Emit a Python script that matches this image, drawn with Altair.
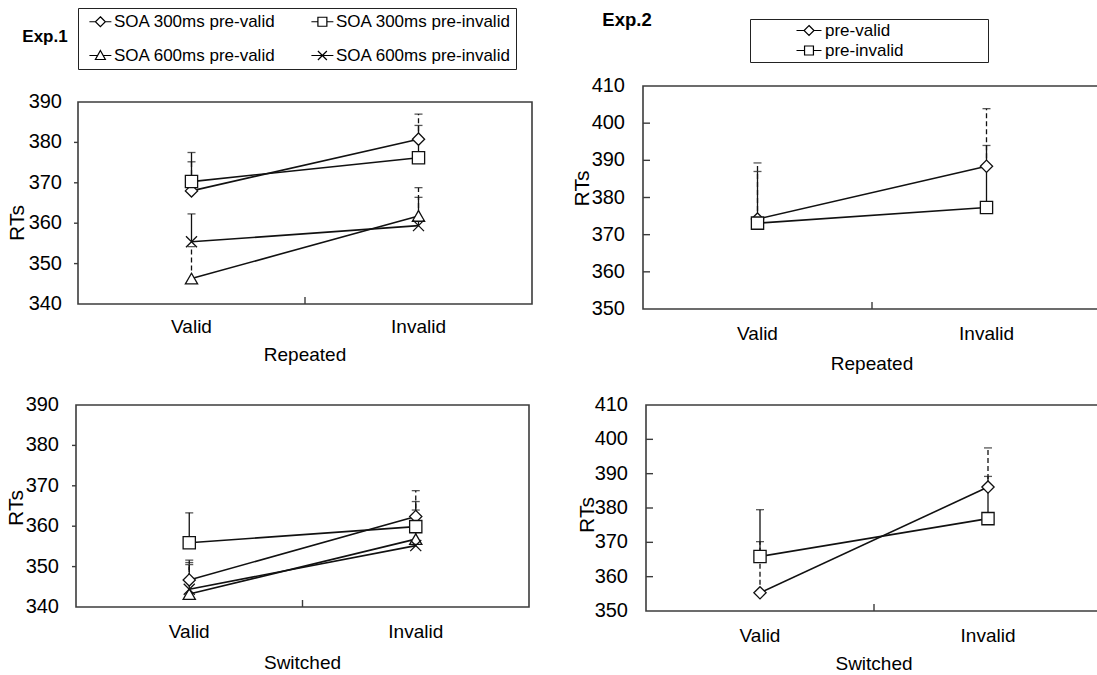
import altair as alt
import pandas as pd

# ---------------- data ----------------
conditions = ["Valid", "Invalid"]

exp1_series = ["SOA 300ms pre-valid", "SOA 300ms pre-invalid",
               "SOA 600ms pre-valid", "SOA 600ms pre-invalid"]
exp1_dashed = ["SOA 300ms pre-valid", "SOA 600ms pre-valid"]
exp2_series = ["pre-valid", "pre-invalid"]
exp2_dashed = ["pre-valid"]

# mean RTs [Valid, Invalid] and top of the (upper) error bar
exp1_rep_mean = [[368.0, 380.8], [370.3, 376.2], [346.3, 361.8], [355.4, 359.4]]
exp1_rep_upper = [[375.2, 387.0], [377.5, 384.2], [354.2, 368.8], [362.3, 366.4]]
exp1_sw_mean = [[346.7, 362.4], [355.9, 359.9], [343.2, 356.8], [344.4, 355.2]]
exp1_sw_upper = [[351.6, 368.8], [363.3, 366.1], [351.0, 364.0], [350.5, 361.0]]
exp2_rep_mean = [[374.2, 388.4], [373.1, 377.3]]
exp2_rep_upper = [[389.3, 403.9], [387.0, 394.0]]
exp2_sw_mean = [[355.3, 386.1], [365.9, 376.9]]
exp2_sw_upper = [[370.2, 397.5], [379.5, 389.2]]

y_ticks_exp1 = [340, 350, 360, 370, 380, 390]
y_ticks_exp2 = [350, 360, 370, 380, 390, 400, 410]
y_title = "RTs"

FONT = "Liberation Sans"
W, H = 1097, 675
INK = "#111111"
FRAME = "#3c3c3c"

marker_exp1 = ["diamond", "square", "triangle-up", "M-0.9,-0.9L0.9,0.9M-0.9,0.9L0.9,-0.9"]
marker_exp2 = ["diamond", "square"]


def f(v):
    return f"{v:.2f}".rstrip("0").rstrip(".")


def legend_path(kind, x0, x1, m):
    cx = (x0 + x1) / 2
    s = m * 0.9
    if kind == "diamond":
        return (f"M{f(x0)},0H{f(cx-m)}M{f(cx+m)},0H{f(x1)}"
                f"M{f(cx)},{f(-m)}L{f(cx+m)},0L{f(cx)},{f(m)}L{f(cx-m)},0Z")
    if kind == "square":
        return (f"M{f(x0)},0H{f(cx-s)}M{f(cx+s)},0H{f(x1)}"
                f"M{f(cx-s)},{f(-s)}H{f(cx+s)}V{f(s)}H{f(cx-s)}Z")
    if kind == "triangle":
        return (f"M{f(x0)},0H{f(cx-0.556*m)}M{f(cx+0.556*m)},0H{f(x1)}"
                f"M{f(cx)},{f(-m)}L{f(cx+m)},{f(0.8*m)}H{f(cx-m)}Z")
    return (f"M{f(x0)},0H{f(x1)}M{f(cx-s)},{f(-s)}L{f(cx+s)},{f(s)}"
            f"M{f(cx-s)},{f(s)}L{f(cx+s)},{f(-s)}")


def panel(series, means, uppers, dashed, shapes, ydom, yticks, xr, yr,
          xtitle, inward, ylab_dx, xlab_dy, xtitle_dy, ytitle_off):
    rows = []
    for s, m, u in zip(series, means, uppers):
        for ci in range(len(conditions)):
            rows.append(dict(series=s, c=ci, rt=m[ci], up=u[ci],
                             dash="dash" if s in dashed else "solid"))
    df = pd.DataFrame(rows)
    one = pd.DataFrame({"k": [0]})
    cond_df = pd.DataFrame({"c": list(range(len(conditions))), "label": conditions})
    tick_df = pd.DataFrame({"v": yticks})

    xs = alt.Scale(domain=[-0.5, 1.5], range=xr, nice=False, zero=False)
    ys = alt.Scale(domain=ydom, range=yr, nice=False, zero=False)
    ppx = (xr[1] - xr[0]) / 2.0
    ppy = (yr[0] - yr[1]) / float(ydom[1] - ydom[0])

    def XD(v):
        return alt.XDatum(v, type="quantitative", scale=xs, axis=None)

    def YD(v):
        return alt.YDatum(v, type="quantitative", scale=ys, axis=None)

    frame = alt.Chart(one).mark_rect(
        fill="white", fillOpacity=0, stroke=FRAME, strokeWidth=1.6
    ).encode(x=XD(-0.5), x2=alt.X2Datum(1.5), y=YD(ydom[0]), y2=alt.Y2Datum(ydom[1]))

    if inward:
        tx0, tx1 = -0.5, -0.5 + 7.0 / ppx
    else:
        tx0, tx1 = -0.5 - 4.0 / ppx, -0.5
    yt = alt.Chart(pd.DataFrame({"v": yticks[1:-1]})).mark_rule(
        color=FRAME, strokeWidth=1.4).encode(
        y=alt.Y("v:Q", scale=ys, axis=None), x=XD(tx0), x2=alt.X2Datum(tx1))
    mid = alt.Chart(one).mark_rule(color=FRAME, strokeWidth=1.4).encode(
        x=XD(0.5), y=YD(ydom[0]), y2=alt.Y2Datum(ydom[0] + 7.0 / ppy))

    # axis labels and titles
    ylab = alt.Chart(tick_df).mark_text(
        font=FONT, fontSize=20, align="right", baseline="middle",
        dx=ylab_dx, color="black").encode(
        y=alt.Y("v:Q", scale=ys, axis=None), x=XD(-0.5), text="v:Q")
    xlab = alt.Chart(cond_df).mark_text(
        font=FONT, fontSize=19, align="center", baseline="middle",
        dy=xlab_dy, color="black").encode(
        x=alt.X("c:Q", scale=xs, axis=None), y=YD(ydom[0]), text="label:N")
    xtit = alt.Chart(pd.DataFrame({"t": [xtitle]})).mark_text(
        font=FONT, fontSize=19, align="center", baseline="middle",
        dy=xtitle_dy, color="black").encode(x=XD(0.5), y=YD(ydom[0]), text="t:N")
    # rotated title: offsets are applied in the rotated frame
    sx, sy = ytitle_off
    ytit = alt.Chart(pd.DataFrame({"t": [y_title]})).mark_text(
        font=FONT, fontSize=21, align="center", baseline="middle", angle=270,
        dx=-sy, dy=sx, color="black").encode(
        x=XD(-0.5), y=YD((ydom[0] + ydom[1]) / 2.0), text="t:N")

    X = alt.X("c:Q", scale=xs, axis=None)
    lines = alt.Chart(df).mark_line(color=INK, strokeWidth=1.6).encode(
        x=X, y=alt.Y("rt:Q", scale=ys, axis=None), detail="series:N")
    errs = alt.Chart(df).mark_rule(color=INK, strokeWidth=1.3).encode(
        x=X, y=alt.Y("rt:Q", scale=ys, axis=None), y2="up:Q",
        strokeDash=alt.StrokeDash("dash:N", scale=alt.Scale(
            domain=["solid", "dash"], range=[[1, 0], [5, 3]]), legend=None))
    caps = alt.Chart(df).mark_tick(orient="horizontal", color=INK, size=8,
                                   thickness=1.3).encode(
        x=X, y=alt.Y("up:Q", scale=ys, axis=None))
    pts = alt.Chart(df).mark_point(filled=True, fill="white", stroke=INK,
                                   strokeWidth=1.3, size=150, opacity=1).encode(
        x=X, y=alt.Y("rt:Q", scale=ys, axis=None),
        shape=alt.Shape("series:N", scale=alt.Scale(domain=series, range=shapes),
                        legend=None))
    return alt.layer(frame, yt, mid, ylab, xlab, xtit, ytit,
                     errs, caps, lines, pts)


tl = panel(exp1_series, exp1_rep_mean, exp1_rep_upper, exp1_dashed, marker_exp1,
           [340, 390], y_ticks_exp1, [78, 532], [304, 102], "Repeated", False,
           -16, 23, 51, (-60, 20))
tr = panel(exp2_series, exp2_rep_mean, exp2_rep_upper, exp2_dashed, marker_exp2,
           [350, 410], y_ticks_exp2, [643, 1101], [309, 86], "Repeated", True,
           -18, 25, 55, (-60, -9))
bl = panel(exp1_series, exp1_sw_mean, exp1_sw_upper, exp1_dashed, marker_exp1,
           [340, 390], y_ticks_exp1, [76, 529], [607, 405], "Switched", False,
           -17, 25, 56, (-59, 2))
br = panel(exp2_series, exp2_sw_mean, exp2_sw_upper, exp2_dashed, marker_exp2,
           [350, 410], y_ticks_exp2, [646, 1102], [611, 405], "Switched", True,
           -18, 25, 53, (-58, 7))

# legends (symbols: line with marker, like the original); Vega fills the
# two legend columns top-to-bottom, so order entries column by column
kinds1 = ["diamond", "square", "triangle", "x"]
order1 = [0, 2, 1, 3]
leg1_domain = [exp1_series[i] for i in order1]
leg1_paths = [legend_path(kinds1[i], -0.3, 2.84, 0.71) for i in order1]
leg2_paths = [legend_path(k, 5.0, 8.57, 0.71) for k in ["diamond", "square"]]

leg1 = alt.Chart(pd.DataFrame({"series": exp1_series})).mark_point(
    filled=False, color="black", stroke="black", strokeWidth=1.2).encode(
    x=alt.value(-500), y=alt.value(-500),
    shape=alt.Shape("series:N", scale=alt.Scale(domain=leg1_domain, range=leg1_paths),
                    legend=alt.Legend(
                        title=None, orient="none", legendX=78, legendY=8,
                        columns=2, columnPadding=29, rowPadding=16, padding=5,
                        gridAlign="each",
                        symbolSize=196, symbolOpacity=1,
                        symbolStrokeColor="black", symbolStrokeWidth=1.2,
                        labelOffset=14, labelFontSize=17, labelLimit=400,
                        labelColor="black", strokeColor="#222222",
                        fillColor="white")))
leg2 = alt.Chart(pd.DataFrame({"series": exp2_series})).mark_point(
    filled=False, color="black", stroke="black", strokeWidth=1.2).encode(
    x=alt.value(-500), y=alt.value(-500),
    shape=alt.Shape("series:N", scale=alt.Scale(domain=exp2_series, range=leg2_paths),
                    legend=alt.Legend(
                        title="\u00a0", titleOrient="right", titlePadding=82,
                        orient="none", legendX=750, legendY=19,
                        rowPadding=2, padding=3,
                        symbolSize=196, symbolOpacity=1,
                        symbolStrokeColor="black", symbolStrokeWidth=1.2,
                        labelOffset=55, labelFontSize=17, labelLimit=400,
                        labelColor="black", strokeColor="#222222",
                        fillColor="white")))

exp_labels = pd.DataFrame({"t": ["Exp.1", "Exp.2"]})
t1 = alt.Chart(exp_labels.iloc[[0]]).mark_text(
    font=FONT, fontSize=17, fontWeight="bold", color="black").encode(
    text="t:N", x=alt.value(45), y=alt.value(37))
t2 = alt.Chart(exp_labels.iloc[[1]]).mark_text(
    font=FONT, fontSize=18.5, fontWeight="bold", color="black").encode(
    text="t:N", x=alt.value(627), y=alt.value(20))

chart = alt.layer(tl, tr, bl, br, leg1, leg2, t1, t2).resolve_scale(
    x="independent", y="independent", shape="independent",
    strokeDash="independent"
).properties(
    width=W, height=H, autosize=alt.AutoSizeParams(type="none"), padding=0,
    background="white"
).configure_view(stroke="transparent").configure_legend(
    labelFont=FONT, titleFont=FONT)

chart.save("out.html", embed_options={"renderer": "svg", "actions": False})
